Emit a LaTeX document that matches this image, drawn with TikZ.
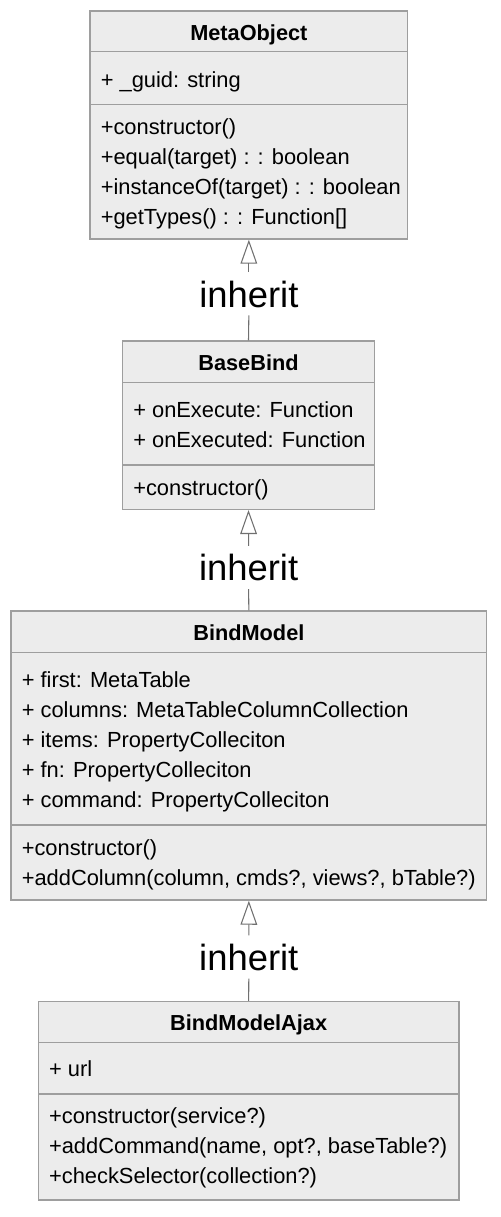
\documentclass[tikz,border=0pt]{standalone}
\usepackage{fontspec}
\setmainfont{Liberation Sans}
\usetikzlibrary{arrows.meta,fit}
\definecolor{boxfill}{HTML}{ECECEC}
\definecolor{boxline}{HTML}{9E9E9E}
\definecolor{connline}{HTML}{707070}
\tikzset{
  x=0.75pt, y=-0.75pt,
  classbox/.style={draw=boxline, fill=boxfill, line width=1.1pt, inner sep=0pt},
  divider/.style={draw=boxline, line width=1.1pt},
  txt/.style={inner sep=0pt, anchor=base west, font=\fontsize{16.4pt}{19pt}\selectfont, text=black},
  ttl/.style={inner sep=0pt, anchor=base, font=\fontsize{16.3pt}{19pt}\selectfont\bfseries, text=black},
  inh/.style={inner xsep=2pt, inner ysep=6pt, text height=20pt, text depth=0pt, font=\fontsize{27.3pt}{32pt}\selectfont, text=black},
  conn/.style={draw=connline, line width=0.8pt},
  inharrow/.style={conn, -{Triangle[open, length=18pt, width=12.5pt, line width=0.8pt]}}
}
\begin{document}
\begin{tikzpicture}
\useasboundingbox (0,0) rectangle (500,1217);

% ---------- MetaObject ----------
\coordinate (mo-nw) at (90,11);
\coordinate (mo-se) at (407.7,239);
\node[classbox, fit=(mo-nw)(mo-se)] (mo) {};
\draw[divider] (90,51.7) -- (407.7,51.7);
\draw[divider] (90,104.3) -- (407.7,104.3);
\node[ttl] (mo-t) at (248.85,40.7) {MetaObject};
\node[txt] (mo-a1) at (100.5,87.7) {+ \_guid: string};
\node[txt] (mo-m1) at (100.5,134) {+constructor()};
\node[txt] (mo-m2) at (100.5,164) {+equal(target) : : boolean};
\node[txt] (mo-m3) at (100.5,194) {+instanceOf(target) : : boolean};
\node[txt] (mo-m4) at (100.5,224) {+getTypes() : : Function[]};

% ---------- BaseBind ----------
\coordinate (bb-nw) at (122.7,341);
\coordinate (bb-se) at (374.3,509.3);
\node[classbox, fit=(bb-nw)(bb-se)] (bb) {};
\draw[divider] (122.7,382.3) -- (374.3,382.3);
\draw[divider] (122.7,465) -- (374.3,465);
\node[ttl] (bb-t) at (248.5,370) {BaseBind};
\node[txt] (bb-a1) at (133,417.3) {+ onExecute: Function};
\node[txt] (bb-a2) at (133,447.3) {+ onExecuted: Function};
\node[txt] (bb-m1) at (133,495) {+constructor()};

% ---------- BindModel ----------
\coordinate (bm-nw) at (11,611);
\coordinate (bm-se) at (486.7,900);
\node[classbox, fit=(bm-nw)(bm-se)] (bm) {};
\draw[divider] (11,652.3) -- (486.7,652.3);
\draw[divider] (11,825) -- (486.7,825);
\node[ttl] (bm-t) at (248.85,640) {BindModel};
\node[txt] (bm-a1) at (21.5,687.3) {+ first: MetaTable};
\node[txt] (bm-a2) at (21.5,717.3) {+ columns: MetaTableColumnCollection};
\node[txt] (bm-a3) at (21.5,747.3) {+ items: PropertyColleciton};
\node[txt] (bm-a4) at (21.5,777.3) {+ fn: PropertyColleciton};
\node[txt] (bm-a5) at (21.5,807.3) {+ command: PropertyColleciton};
\node[txt] (bm-m1) at (21.5,855) {+constructor()};
\node[txt] (bm-m2) at (21.5,885) {+addColumn(column, cmds?, views?, bTable?)};

% ---------- BindModelAjax ----------
\coordinate (ba-nw) at (38.3,1001.7);
\coordinate (ba-se) at (459,1200);
\node[classbox, fit=(ba-nw)(ba-se)] (ba) {};
\draw[divider] (38.3,1042.7) -- (459,1042.7);
\draw[divider] (38.3,1094) -- (459,1094);
\node[ttl] (ba-t) at (248.65,1030) {BindModelAjax};
\node[txt] (ba-a1) at (48.8,1076.7) {+ url};
\node[txt] (ba-m1) at (48.8,1123.3) {+constructor(service?)};
\node[txt] (ba-m2) at (48.8,1153.3) {+addCommand(name, opt?, baseTable?)};
\node[txt] (ba-m3) at (48.8,1183.3) {+checkSelector(collection?)};

% ---------- inheritance connectors ----------
\node[inh] (i1) at (248.85,293.8) {inherit};
\node[inh] (i2) at (248.6,567.5) {inherit};
\node[inh] (i3) at (248.8,957) {inherit};

\draw[conn] (bb.north) -- (i1.south);
\draw[inharrow] (i1.north) -- (mo.south);
\draw[conn] (bm.north) -- (i2.south);
\draw[inharrow] (i2.north) -- (bb.south);
\draw[conn] (ba.north) -- (i3.south);
\draw[inharrow] (i3.north) -- (bm.south);
\end{tikzpicture}
\end{document}
